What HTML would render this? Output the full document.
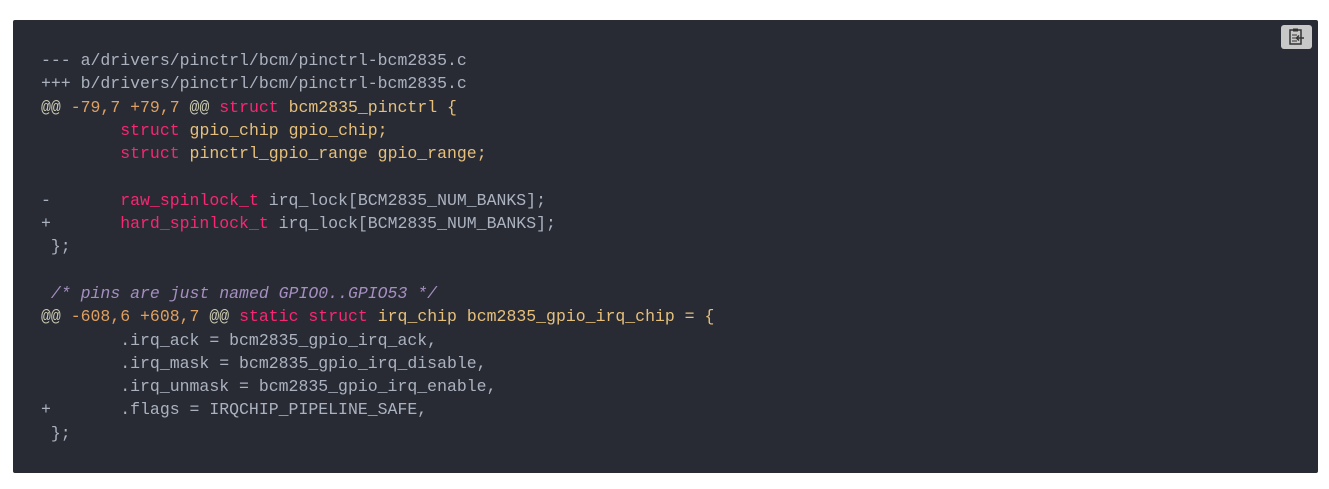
<!DOCTYPE html>
<html><head><meta charset="utf-8"><style>
html,body{margin:0;padding:0;background:#fff;width:1329px;height:489px;overflow:hidden}
.box{position:absolute;left:13px;top:20px;width:1305px;height:453px;background:#282b34;border-radius:2px}
pre{position:absolute;left:41px;top:49px;margin:0;font-family:"Liberation Mono",monospace;font-size:16.5px;line-height:23.3px;color:#abb2bf;white-space:pre}
.k{color:#f92672}.y{color:#e6c07b}.n{color:#e0a060}.a{color:#c8c8b0}.c{color:#a58fc0;font-style:italic}
.btn{position:absolute;left:1281px;top:25px;width:31px;height:24px;background:#c8c8c8;border-radius:3px}
</style></head><body>
<div class="box"></div>
<pre>--- a/drivers/pinctrl/bcm/pinctrl-bcm2835.c
+++ b/drivers/pinctrl/bcm/pinctrl-bcm2835.c
<span class="a">@@</span> <span class="n">-79,7 +79,7</span> <span class="a">@@</span> <span class="k">struct</span> <span class="y">bcm2835_pinctrl {</span>
        <span class="k">struct</span> <span class="y">gpio_chip gpio_chip;</span>
        <span class="k">struct</span> <span class="y">pinctrl_gpio_range gpio_range;</span>

-       <span class="k">raw_spinlock_t</span> irq_lock[BCM2835_NUM_BANKS];
+       <span class="k">hard_spinlock_t</span> irq_lock[BCM2835_NUM_BANKS];
 };

 <span class="c">/* pins are just named GPIO0..GPIO53 */</span>
<span class="a">@@</span> <span class="n">-608,6 +608,7</span> <span class="a">@@</span> <span class="k">static</span> <span class="k">struct</span> <span class="y">irq_chip bcm2835_gpio_irq_chip = {</span>
        .irq_ack = bcm2835_gpio_irq_ack,
        .irq_mask = bcm2835_gpio_irq_disable,
        .irq_unmask = bcm2835_gpio_irq_enable,
+       .flags = IRQCHIP_PIPELINE_SAFE,
 };</pre>
<div class="btn"><svg width="31" height="24" viewBox="0 0 31 24"><rect x="9" y="5" width="11" height="14" fill="none" stroke="#333" stroke-width="1.5"/><rect x="12" y="3.5" width="5" height="3" fill="#333"/><line x1="11" y1="10" x2="16" y2="10" stroke="#333"/><line x1="11" y1="13" x2="15" y2="13" stroke="#333"/><line x1="11" y1="16" x2="16" y2="16" stroke="#333"/><path d="M23 13H16M18 10.5L15.5 13L18 15.5" fill="none" stroke="#333" stroke-width="1.5"/></svg></div>
</body></html>
